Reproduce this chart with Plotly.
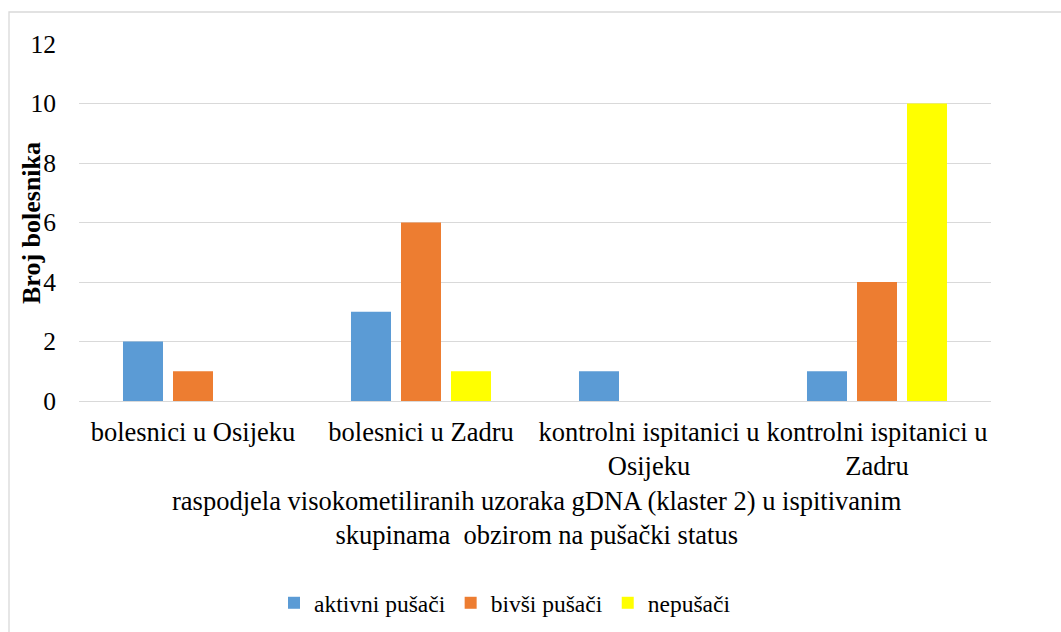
import plotly.graph_objects as go

categories = ["bolesnici u Osijeku", "bolesnici u Zadru",
              "kontrolni ispitanici u<br>Osijeku", "kontrolni ispitanici u<br>Zadru"]
series_names = ["aktivni pušači", "bivši pušači", "nepušači"]
aktivni = [2, 3, 1, 1]
bivsi = [1, 6, None, 4]
nepusaci = [None, 1, None, 10]
colors = ["#5B9BD5", "#ED7D31", "#FFFF00"]
y_ticks = [0, 2, 4, 6, 8, 10, 12]
y_title = "Broj bolesnika"
x_title = "raspodjela visokometiliranih uzoraka gDNA (klaster 2) u ispitivanim<br>skupinama \u00a0obzirom na pušački status"

FONT = "'Liberation Serif', 'Times New Roman', serif"
W, H = 1061, 632
L, R, T, B = 79, 70, 44, 231

fig = go.Figure()
for name, vals, c in zip(series_names, [aktivni, bivsi, nepusaci], colors):
    fig.add_trace(go.Bar(x=categories, y=vals, name=name, marker=dict(color=c, line=dict(width=0))))

pw = W - L - R
ph = H - T - B
def px_x(p):
    return (p - L) / pw
def px_y(p):
    return (H - B - p) / ph

fig.update_layout(
    width=W, height=H,
    margin=dict(l=L, r=R, t=T, b=B, autoexpand=False),
    paper_bgcolor="white", plot_bgcolor="white",
    font=dict(family=FONT, size=24, color="black"),
    barmode="group", bargap=0.342, bargroupgap=0.2,
    showlegend=True,
    legend=dict(orientation="h", xanchor="center", x=px_x(505), yanchor="middle",
                y=px_y(603), font=dict(family=FONT, size=23.5), itemwidth=30,
                traceorder="normal"),
    xaxis=dict(showgrid=False, showline=False, ticks="", tickfont=dict(family=FONT, size=26.5),
               ticklabelstandoff=12),
    yaxis=dict(range=[0, 12], tickvals=y_ticks, showgrid=True, gridcolor="#d9d9d9",
               gridwidth=1.3, zeroline=True, zerolinecolor="#d9d9d9", zerolinewidth=1.3,
               showline=False, ticks="", tickfont=dict(family=FONT, size=25.5), ticklabelstandoff=22),
    shapes=[dict(type="rect", xref="paper", yref="paper",
                 x0=px_x(9), x1=px_x(1075), y0=px_y(645), y1=px_y(12),
                 line=dict(color="#d9d9d9", width=1.3), fillcolor="rgba(0,0,0,0)", layer="below")],
    annotations=[
        dict(text="<b>" + y_title + "</b>", xref="paper", yref="paper", x=px_x(31), y=px_y(223),
             textangle=-90, showarrow=False, xanchor="center", yanchor="middle",
             font=dict(family=FONT, size=26)),
        dict(text=x_title, xref="paper", yref="paper", x=px_x(537), y=px_y(518),
             showarrow=False, xanchor="center", yanchor="middle", font=dict(family=FONT, size=26.5)),
    ],
)
fig.write_html("out.html", config={"displayModeBar": False})
with open("out.html", encoding="utf-8") as f:
    html = f.read()
html = html.replace("<body>", '<body style="margin:0;padding:0;overflow:hidden">', 1)
with open("out.html", "w", encoding="utf-8") as f:
    f.write(html)
